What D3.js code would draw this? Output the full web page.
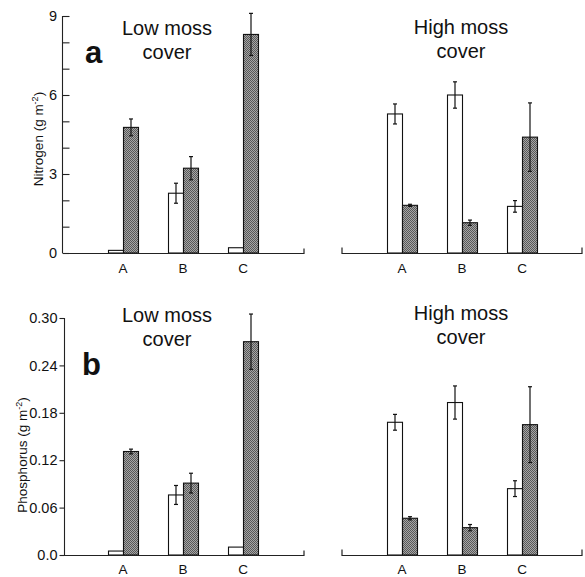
<!DOCTYPE html>
<html><head><meta charset="utf-8">
<script src="https://cdn.jsdelivr.net/npm/d3@7"></script>
<style>body{margin:0;background:#fff}svg{display:block}text{font-family:"Liberation Sans",Arial,sans-serif;fill:#111}</style>
</head><body><svg id="c" width="585" height="577"></svg>
<script>
const categories = ["A","B","C"];
// Nitrogen (g m-2): open bars / shaded bars, mean and error
const nLowOpen = [0.1, 2.27, 0.2];
const nLowOpenErr = [0, 0.38, 0];
const nLowShaded = [4.77, 3.22, 8.3];
const nLowShadedErr = [0.32, 0.44, 0.8];
const nHighOpen = [5.28, 6.0, 1.77];
const nHighOpenErr = [0.38, 0.5, 0.22];
const nHighShaded = [1.81, 1.15, 4.4];
const nHighShadedErr = [0.04, 0.1, 1.3];
// Phosphorus (g m-2)
const pLowOpen = [0.005, 0.076, 0.01];
const pLowOpenErr = [0, 0.012, 0];
const pLowShaded = [0.131, 0.091, 0.27];
const pLowShadedErr = [0.003, 0.0125, 0.035];
const pHighOpen = [0.168, 0.193, 0.084];
const pHighOpenErr = [0.01, 0.021, 0.01];
const pHighShaded = [0.0465, 0.0346, 0.165];
const pHighShadedErr = [0.002, 0.004, 0.048];
const nTicks = [0,1,2,3,4,5,6,7,8,9];
const nTickLabels = [0,3,6,9];
const pTicks = [0, 0.06, 0.12, 0.18, 0.24, 0.30];

const svg = d3.select("#c");
const defs = svg.append("defs");
const pat = defs.append("pattern").attr("id","stip").attr("patternUnits","userSpaceOnUse").attr("width",2).attr("height",2);
pat.append("rect").attr("width",2).attr("height",2).attr("fill","#a6a6a6");
pat.append("rect").attr("x",0).attr("y",0).attr("width",1).attr("height",1).attr("fill","#585858");
pat.append("rect").attr("x",1).attr("y",1).attr("width",1).attr("height",1).attr("fill","#585858");

const xLeft = d3.scalePoint().domain(categories).range([63,303]).padding(1);
const xRight = d3.scalePoint().domain(categories).range([342,582]).padding(1);
const yN = d3.scaleLinear().domain([0,9]).range([253,16]);
const yP = d3.scaleLinear().domain([0,0.30]).range([555,318]);
const bw = 15;

function bars(x, y, open, openErr, shaded, shadedErr){
  const g = svg.append("g");
  const data = [];
  categories.forEach((c,i)=>{
    data.push({c, v:open[i], e:openErr[i], off:-bw, fill:"#fff"});
    data.push({c, v:shaded[i], e:shadedErr[i], off:0, fill:"url(#stip)"});
  });
  g.selectAll("rect.b").data(data).join("rect")
    .attr("x", d=>x(d.c)+d.off+0.5).attr("width", bw)
    .attr("y", d=>y(d.v)).attr("height", d=>y(0)-y(d.v))
    .attr("fill", d=>d.fill).attr("stroke","#111").attr("stroke-width",1.1);
  const eb = data.filter(d=>d.e>0);
  const cx = d=>x(d.c)+d.off+bw/2+0.5;
  g.selectAll("line.e").data(eb).join("line")
    .attr("x1",cx).attr("x2",cx).attr("y1",d=>y(d.v+d.e)).attr("y2",d=>y(d.v-d.e))
    .attr("stroke","#111").attr("stroke-width",1.2);
  ["+","-"].forEach(s=>{
    g.selectAll("line.c"+(s==="+"?"u":"d")).data(eb).join("line")
      .attr("x1",d=>cx(d)-2).attr("x2",d=>cx(d)+2)
      .attr("y1",d=>y(s==="+"?d.v+d.e:d.v-d.e)).attr("y2",d=>y(s==="+"?d.v+d.e:d.v-d.e))
      .attr("stroke","#111").attr("stroke-width",1.2);
  });
}

function xAxes(y, labelY){
  const y0 = y(0)+0.5;
  svg.append("path").attr("d",`M${xLeft.range()[0]},${y0}H${xLeft.range()[1]+1}V${y0-5}`)
    .attr("fill","none").attr("stroke","#222").attr("stroke-width",1.2);
  svg.append("path").attr("d",`M${xRight.range()[0]},${y0-6}V${y0}H${xRight.range()[1]}V${y0-6}`)
    .attr("fill","none").attr("stroke","#222").attr("stroke-width",1.2);
  [xLeft,xRight].forEach(x=>{
    svg.selectAll(null).data(categories).join("text")
      .attr("x",c=>x(c)).attr("y",labelY).attr("text-anchor","middle")
      .attr("font-size",13.5).text(c=>c);
  });
}

// Top panel y axis (ticks inward)
const gN = svg.append("g").attr("transform","translate(62.5,0)");
gN.call(d3.axisRight(yN).tickValues(nTicks).tickSize(7).tickFormat(""));
gN.select(".domain").attr("d",`M0,${yN(9)}V${yN(0)}`);
gN.selectAll("line,path").attr("stroke","#222").attr("stroke-width",1.1);
svg.selectAll(null).data(nTickLabels).join("text")
  .attr("x",57).attr("y",d=>yN(d)+5).attr("text-anchor","end").attr("font-size",14.5).text(d=>d);

// Bottom panel y axis (ticks outward)
const gP = svg.append("g").attr("transform","translate(64.5,0)");
gP.call(d3.axisLeft(yP).tickValues(pTicks).tickSize(5).tickPadding(2).tickFormat(d=>d===0?"0.0":d3.format(".2f")(d)));
gP.select(".domain").attr("d",`M0,${yP(0.30)}V${yP(0)}`);
gP.selectAll("line,path").attr("stroke","#222").attr("stroke-width",1.1);
gP.selectAll("text").attr("font-size",14.5).attr("font-family","Liberation Sans, Arial, sans-serif").attr("fill","#111");

bars(xLeft, yN, nLowOpen, nLowOpenErr, nLowShaded, nLowShadedErr);
bars(xRight, yN, nHighOpen, nHighOpenErr, nHighShaded, nHighShadedErr);
bars(xLeft, yP, pLowOpen, pLowOpenErr, pLowShaded, pLowShadedErr);
bars(xRight, yP, pHighOpen, pHighOpenErr, pHighShaded, pHighShadedErr);
xAxes(yN, 273);
xAxes(yP, 574);

function title(x, y1, l1, l2){
  svg.append("text").attr("x",x).attr("y",y1).attr("text-anchor","middle").attr("font-size",20).text(l1);
  svg.append("text").attr("x",x).attr("y",y1+24).attr("text-anchor","middle").attr("font-size",20).text(l2);
}
title(167, 35, "Low moss", "cover");
title(461, 34, "High moss", "cover");
title(167, 322, "Low moss", "cover");
title(461, 320, "High moss", "cover");
svg.append("text").attr("x",85).attr("y",63).attr("font-size",31).attr("font-weight","bold").text("a");
svg.append("text").attr("x",82).attr("y",375).attr("font-size",31).attr("font-weight","bold").text("b");

function ytitle(x, y, label){
  const t = svg.append("text").attr("transform",`translate(${x},${y}) rotate(-90)`).attr("text-anchor","middle").attr("font-size",13.5);
  t.append("tspan").text(label+" (g m");
  t.append("tspan").attr("dy",-5).attr("font-size",9).text("-2");
  t.append("tspan").attr("dy",5).text(")");
}
ytitle(43, 139, "Nitrogen");
ytitle(27, 455, "Phosphorus");
</script></body></html>
